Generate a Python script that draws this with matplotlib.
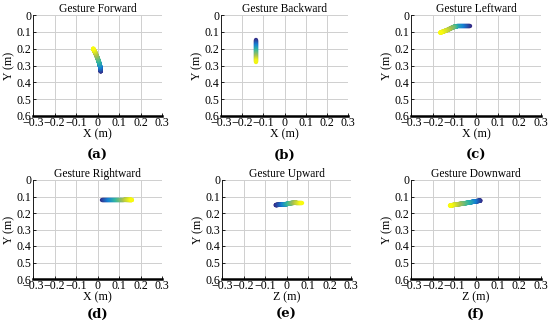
import numpy as np
import matplotlib
matplotlib.use("Agg")
import matplotlib.pyplot as plt
from matplotlib.collections import LineCollection
from matplotlib.colors import LinearSegmentedColormap

plt.rcParams['font.family'] = ['Liberation Serif', 'DejaVu Serif']

# parula-like map, blue at the start of a gesture, yellow at the end
parula = LinearSegmentedColormap.from_list('parula', [
    (0.208, 0.166, 0.529), (0.079, 0.504, 0.838), (0.200, 0.720, 0.630),
    (0.650, 0.750, 0.330), (0.976, 0.983, 0.054)])

titles = ['Gesture Forward', 'Gesture Backward', 'Gesture Leftward',
          'Gesture Rightward', 'Gesture Upward', 'Gesture Downward']
xlabels = ['X (m)', 'X (m)', 'X (m)', 'X (m)', 'Z (m)', 'Z (m)']
panel_tags = ['(a)', '(b)', '(c)', '(d)', '(e)', '(f)']

fwd_h = [0.015, 0.013, 0.008, 0.000, -0.010, -0.020]
fwd_y = [0.335, 0.310, 0.285, 0.255, 0.225, 0.200]
bwd_h = [-0.135, -0.135, -0.135, -0.135, -0.135]
bwd_y = [0.150, 0.185, 0.215, 0.250, 0.280]
left_h = [-0.030, -0.060, -0.090, -0.105, -0.130, -0.165]
left_y = [0.068, 0.068, 0.068, 0.072, 0.088, 0.105]
right_h = [0.020, 0.055, 0.090, 0.125, 0.160]
right_y = [0.120, 0.120, 0.120, 0.120, 0.121]
up_h = [-0.050, -0.020, 0.000, 0.020, 0.045, 0.070]
up_y = [0.152, 0.148, 0.146, 0.140, 0.137, 0.137]
down_h = [0.020, -0.005, -0.030, -0.060, -0.090, -0.120]
down_y = [0.125, 0.130, 0.136, 0.143, 0.148, 0.155]

tracks = [(fwd_h, fwd_y), (bwd_h, bwd_y), (left_h, left_y),
          (right_h, right_y), (up_h, up_y), (down_h, down_y)]

xticks = [-0.3, -0.2, -0.1, 0, 0.1, 0.2, 0.3]
yticks = [0, 0.1, 0.2, 0.3, 0.4, 0.5, 0.6]

fig = plt.figure(figsize=(5.5, 3.32), dpi=100)
W, H = 550, 332
# axes boxes in pixels: left, right, top, bottom
boxes = [(33, 162, 15, 116), (221, 348, 15, 116), (411, 541, 15, 116),
         (33, 162, 180, 279), (222, 351, 180, 279), (411, 541, 180, 279)]
tag_y = [155, 155, 155, 314, 314, 314]
fs = 8.6

for i, (l, r, t, b) in enumerate(boxes):
    ax = fig.add_axes([l / W, 1 - b / H, (r - l) / W, (b - t) / H])
    h, y = tracks[i]
    # densify along the drawn polyline so the colour changes smoothly
    s = np.linspace(0, 1, 200)
    k = np.linspace(0, 1, len(h))
    hh = np.interp(s, k, h)
    yy = np.interp(s, k, y)
    pts = np.column_stack([hh, yy]).reshape(-1, 1, 2)
    segs = np.concatenate([pts[:-1], pts[1:]], axis=1)
    lc = LineCollection(segs, cmap=parula, linewidths=3.2, capstyle='round')
    lc.set_array(s[:-1])
    ax.add_collection(lc)

    ax.set_xlim(-0.3, 0.3)
    ax.set_ylim(0.6, 0)
    ax.set_xticks(xticks)
    ax.set_yticks(yticks)
    ax.set_xticklabels(['\u22120.3', '\u22120.2', '\u22120.1', '0', '0.1', '0.2', '0.3'])
    ax.set_yticklabels(['0', '0.1', '0.2', '0.3', '0.4', '0.5', '0.6'])
    ax.grid(True, color='#cfcfcf', linewidth=0.7)
    ax.set_axisbelow(True)
    for side in ['top', 'right']:
        ax.spines[side].set_visible(False)
    ax.spines['bottom'].set_linewidth(1.8)
    ax.spines['left'].set_linewidth(0.6)
    ax.tick_params(direction='in', length=2, width=0.6, labelsize=fs, pad=1)
    ax.set_title(titles[i], fontsize=8.3, pad=2)
    ax.set_xlabel(xlabels[i], fontsize=fs, labelpad=-1)
    ax.set_ylabel('Y (m)', fontsize=fs, labelpad=1)

    fig.text((l + r) / 2 / W, 1 - tag_y[i] / H, panel_tags[i], fontsize=9.5,
             fontweight='bold', ha='center', va='center', family='DejaVu Serif')

fig.savefig('out.png', dpi=100)
